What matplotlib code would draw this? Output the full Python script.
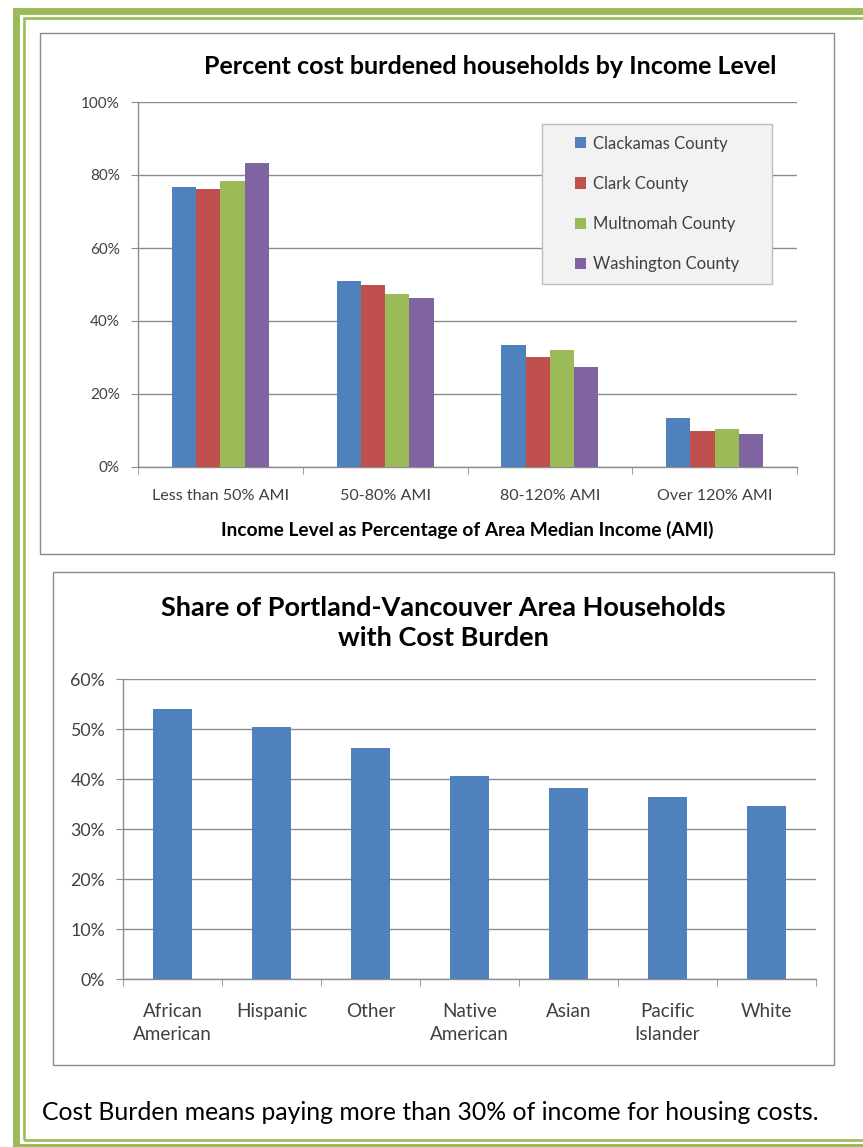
import matplotlib.pyplot as plt
from matplotlib.patches import Rectangle
from matplotlib.ticker import FixedLocator, PercentFormatter

# data
income_levels = ['Less than 50% AMI', '50-80% AMI', '80-120% AMI', 'Over 120% AMI']
counties = ['Clackamas County', 'Clark County', 'Multnomah County', 'Washington County']
clackamas = [76.7, 50.9, 33.3, 13.3]
clark = [76.2, 49.9, 30.2, 9.8]
multnomah = [78.3, 47.4, 32.1, 10.5]
washington = [83.3, 46.4, 27.5, 9.0]

groups = ['African\nAmerican', 'Hispanic', 'Other', 'Native\nAmerican', 'Asian', 'Pacific\nIslander', 'White']
share_burden = [54.1, 50.5, 46.3, 40.6, 38.3, 36.5, 34.7]

colors = ['#4F81BD', '#C0504D', '#9BBB59', '#8064A2']
frame_green = '#9BBB59'
grid_gray = '#8c8c8c'
text_col = '#404040'

W, H = 863, 1147
plt.rcParams['font.family'] = ['Lato', 'DejaVu Sans']


def box(x0, y0, x1, y1):
    # pixel box -> figure fraction rect
    return [x0 / W, 1 - y1 / H, (x1 - x0) / W, (y1 - y0) / H]


fig = plt.figure(figsize=(W / 100, H / 100), dpi=100)


def fig_rect(x0, y0, x1, y1, **kw):
    r = Rectangle((x0 / W, 1 - y1 / H), (x1 - x0) / W, (y1 - y0) / H,
                  transform=fig.transFigure, **kw)
    fig.add_artist(r)
    return r


# green page border (double line), right side runs off the page
fig_rect(15.5, 10.5, 920, 1146.5, fill=False, ec=frame_green, lw=5.0)
fig_rect(23.5, 17.8, 910, 1140.2, fill=False, ec=frame_green, lw=1.9)

# chart boxes
fig_rect(40, 33, 834, 554, fill=False, ec='#8a8a8a', lw=1.0)
fig_rect(53, 572, 834, 1065, fill=False, ec='#8a8a8a', lw=1.0)


def style_axes(ax, n):
    for s in ['top', 'right']:
        ax.spines[s].set_visible(False)
    for s in ['left', 'bottom']:
        ax.spines[s].set_color(grid_gray)
        ax.spines[s].set_linewidth(1.0)
    ax.yaxis.grid(True, color=grid_gray, lw=1.0)
    ax.set_axisbelow(True)
    ax.set_xlim(-0.5, n - 0.5)
    ax.set_xticks(range(n))
    ax.xaxis.set_minor_locator(FixedLocator([i - 0.5 for i in range(n + 1)]))
    ax.tick_params(axis='x', which='major', length=0, colors=text_col)
    ax.tick_params(axis='x', which='minor', length=5, color=grid_gray, direction='out')
    ax.tick_params(axis='y', length=5, color=grid_gray, colors=text_col)
    ax.yaxis.set_major_formatter(PercentFormatter(decimals=0))


# --- chart 1: grouped bars by income level
ax1 = fig.add_axes(box(138, 102, 797, 467))
bw = 0.147
for k, (vals, name) in enumerate(zip([clackamas, clark, multnomah, washington], counties)):
    xs = [i + (k - 1.5) * bw for i in range(len(income_levels))]
    ax1.bar(xs, vals, width=bw, color=colors[k], label=name, zorder=3)
style_axes(ax1, len(income_levels))
ax1.set_ylim(0, 100)
ax1.set_yticks(range(0, 101, 20))
ax1.set_xticklabels(income_levels, fontsize=11.6)
ax1.tick_params(axis='x', which='major', pad=16)
ax1.tick_params(axis='y', labelsize=11, pad=8)
ax1.set_xlabel('Income Level as Percentage of Area Median Income (AMI)',
               fontsize=13.8, fontweight='bold', labelpad=13, color='black')
fig.text(490 / W, 1 - 67 / H, 'Percent cost burdened households by Income Level',
         ha='center', va='center', fontsize=18, fontweight='bold')

# legend box drawn separately to get Excel-like padding
fig_rect(542, 124, 772, 284, fc='#f2f2f2', ec='#bdbdbd', lw=1.0, zorder=5)
leg = fig.legend(*ax1.get_legend_handles_labels(), loc='upper left',
                 bbox_to_anchor=(563 / W, 1 - 124 / H), frameon=False,
                 fontsize=12, labelspacing=1.45, handlelength=0.65,
                 handleheight=0.65, handletextpad=0.45, borderpad=0.2)
leg.set_zorder(6)
for t in leg.get_texts():
    t.set_color(text_col)

# --- chart 2: share by race/ethnicity
ax2 = fig.add_axes(box(123, 679, 816, 979))
ax2.bar(range(len(groups)), share_burden, width=0.4, color=colors[0], zorder=3)
style_axes(ax2, len(groups))
ax2.set_ylim(0, 60)
ax2.set_yticks(range(0, 61, 10))
ax2.set_xticklabels(groups, fontsize=13.6, linespacing=1.45)
ax2.tick_params(axis='x', which='major', pad=17)
ax2.tick_params(axis='y', labelsize=12.8, pad=8)
fig.text(443 / W, 1 - 623 / H, 'Share of Portland-Vancouver Area Households\nwith Cost Burden',
         ha='center', va='center', fontsize=19.5, fontweight='bold', linespacing=1.32)

fig.text(42 / W, 1 - 1112 / H, 'Cost Burden means paying more than 30% of income for housing costs.',
         ha='left', va='center', fontsize=17.8)

fig.savefig('out.png', dpi=100)
